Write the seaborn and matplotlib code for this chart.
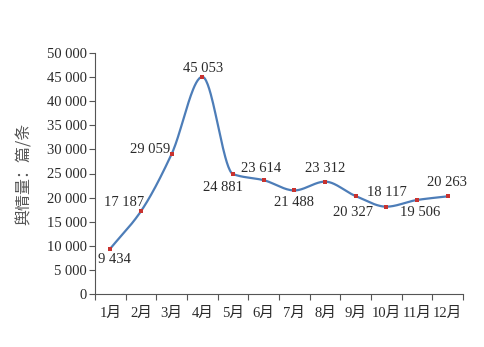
import numpy as np
import pandas as pd
import matplotlib
matplotlib.use("Agg")
import matplotlib.pyplot as plt
from matplotlib.ticker import FuncFormatter, FixedLocator
import seaborn as sns

months = ["1月", "2月", "3月", "4月", "5月", "6月", "7月", "8月", "9月", "10月", "11月", "12月"]
values = [9434, 17187, 29059, 45053, 24881, 23614, 21488, 23312, 20327, 18117, 19506, 20263]
y_ticks = list(range(0, 50001, 5000))

# label offsets (pixels) relative to each point
label_offsets = [(4, -11), (-17, 9), (-22, 4), (1, 8), (-10, -13), (-3, 12),
                 (0, -12), (0, 13), (-3, -16), (1, 14), (3, -13), (-1, 14)]

sns.set_theme(style="white")
plt.rcParams["font.family"] = ["Liberation Serif", "Noto Sans CJK SC"]

fig = plt.figure(figsize=(4.84, 3.47), dpi=100)
ax = fig.add_axes([95 / 484, 1 - 294 / 347, 368 / 484, 241 / 347])

x = np.arange(len(values), dtype=float)
y = np.array(values, dtype=float)


def pchip(xs, ys, n=40):
    h = np.diff(xs)
    d = np.diff(ys) / h
    m = np.zeros_like(ys)
    for k in range(1, len(ys) - 1):
        if d[k - 1] * d[k] > 0:
            w1 = 2 * h[k] + h[k - 1]
            w2 = h[k] + 2 * h[k - 1]
            m[k] = (w1 + w2) / (w1 / d[k - 1] + w2 / d[k])
    m[0] = d[0]
    m[-1] = d[-1]
    out_x, out_y = [], []
    t = np.linspace(0, 1, n, endpoint=False)
    for k in range(len(ys) - 1):
        h00 = 2 * t**3 - 3 * t**2 + 1
        h10 = t**3 - 2 * t**2 + t
        h01 = -2 * t**3 + 3 * t**2
        h11 = t**3 - t**2
        out_x.extend(xs[k] + t * h[k])
        out_y.extend(h00 * ys[k] + h10 * h[k] * m[k] + h01 * ys[k + 1] + h11 * h[k] * m[k + 1])
    out_x.append(xs[-1])
    out_y.append(ys[-1])
    return np.array(out_x), np.array(out_y)


sx, sy = pchip(x, y)
smooth = pd.DataFrame({"x": sx, "y": sy})
pts = pd.DataFrame({"x": x, "y": y})

sns.lineplot(data=smooth, x="x", y="y", ax=ax, color="#4d7db8", linewidth=1.6,
             sort=False, estimator=None)
sns.scatterplot(data=pts, x="x", y="y", ax=ax, color="#c8322f", marker="s", s=9,
                linewidth=0, zorder=5)

for xi, yi, v, (dx, dy) in zip(x, y, values, label_offsets):
    ax.annotate(f"{v:,}".replace(",", " "), (xi, yi), xytext=(dx, dy),
                textcoords="offset pixels", ha="center", va="center",
                fontsize=10.5, color="#2a2a2a")

ax.set_xlim(-0.5, len(values) - 0.5)
ax.set_ylim(0, 50000)
ax.set_yticks(y_ticks)
ax.yaxis.set_major_formatter(FuncFormatter(lambda v, p: f"{int(v):,}".replace(",", " ")))

ax.xaxis.set_major_locator(FixedLocator(np.arange(-0.5, len(values), 1.0)))
ax.xaxis.set_major_formatter(FuncFormatter(lambda v, p: ""))
ax.xaxis.set_minor_locator(FixedLocator(x))
ax.set_xticklabels(months, minor=True)
ax.tick_params(axis="x", which="major", direction="out", length=4, width=0.8,
               color="#555555", bottom=True)
ax.tick_params(axis="x", which="minor", length=0, pad=9, labelsize=10.5,
               labelcolor="#2a2a2a")
ax.tick_params(axis="y", direction="out", length=4, width=0.8, color="#555555",
               left=True, labelsize=10.5, labelcolor="#2a2a2a", pad=2)

for s in ["top", "right"]:
    ax.spines[s].set_visible(False)
for s in ["left", "bottom"]:
    ax.spines[s].set_color("#555555")
    ax.spines[s].set_linewidth(0.8)

ax.set_xlabel("")
ax.set_ylabel("舆情量：篇/条", fontsize=11.5, color="#555555",
              family=["Noto Sans CJK SC", "DejaVu Sans"], labelpad=10)
ax.grid(False)

fig.savefig("out.png", dpi=100, facecolor="white")
